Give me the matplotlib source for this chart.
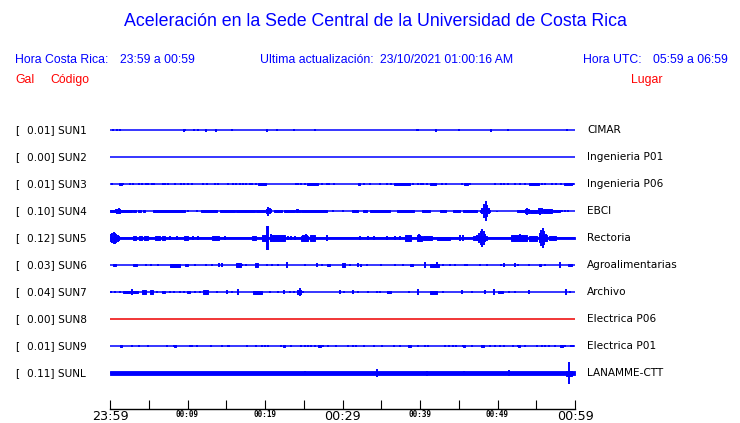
import matplotlib
matplotlib.use("Agg")
import matplotlib.pyplot as plt

# station info
codes = ["SUN1", "SUN2", "SUN3", "SUN4", "SUN5", "SUN6", "SUN7", "SUN8", "SUN9", "SUNL"]
peaks = [0.01, 0.00, 0.01, 0.10, 0.12, 0.03, 0.04, 0.00, 0.01, 0.11]
places = ["CIMAR", "Ingenieria P01", "Ingenieria P06", "EBCI", "Rectoria",
          "Agroalimentarias", "Archivo", "Electrica P06", "Electrica P01", "LANAMME-CTT"]
# background noise level per station (gal)
floors = [0, 0, 0, 0, 0.013, 0, 0, 0, 0, 0.017]

# time axis (minutes after 23:59)
tick_min = list(range(0, 61, 5))
big_labels = {0: "23:59", 30: "00:29", 60: "00:59"}
small_labels = {10: "00:09", 20: "00:19", 40: "00:39", 50: "00:49"}

# short bursts: (minute, amplitude in gal)
sun1_spikes = [(0.4, 0.006), (0.9, 0.01), (1.3, 0.01), (9.5, 0.015), (9.7, 0.01), (10.8, 0.01),
               (11.3, 0.007), (12.4, 0.015), (13.7, 0.015), (15.8, 0.007), (20.3, 0.015),
               (21.5, 0.012), (21.6, 0.012), (23.7, 0.01), (26.5, 0.007), (39.6, 0.012),
               (39.7, 0.012), (42.0, 0.015), (45.0, 0.012), (49.2, 0.015), (51.4, 0.01), (59.0, 0.01)]
sun2_spikes = []
sun3_spikes = [(t, 0.012) for t in [
    0.2, 1.7, 2.6, 3.0, 3.7, 4.1, 4.6, 4.9, 5.4, 5.7, 6.9, 7.1, 7.5, 8.4, 9.2, 9.5, 10.0,
    10.6, 12.0, 12.5, 13.5, 13.9, 15.2, 15.9, 16.3, 16.8, 17.1, 17.6, 18.0, 18.3, 18.8,
    24.0, 24.3, 24.6, 25.2, 27.3, 28.0, 28.3, 28.9, 32.8, 33.5, 34.8, 35.7, 36.3, 39.1,
    39.8, 40.1, 40.4, 40.9, 42.9, 43.3, 45.4, 46.5, 49.7, 50.5, 50.8, 51.4, 52.3, 52.9,
    53.5, 55.7, 56.1, 57.0, 57.6, 58.2, 59.8]]
sun4_spikes = [(0.73, 0.02), (0.95, 0.025), (1.16, 0.03), (1.33, 0.025), (1.5, 0.015),
               (10.1, 0.008), (11.2, 0.008), (20.2, 0.025), (20.4, 0.045), (20.6, 0.03),
               (20.8, 0.02), (24.1, 0.02), (24.3, 0.02), (24.5, 0.015), (28.8, 0.006),
               (30.1, 0.006), (47.83, 0.015), (48.05, 0.03), (48.26, 0.07), (48.48, 0.10),
               (48.65, 0.06), (48.86, 0.03), (49.08, 0.015), (49.9, 0.005), (53.7, 0.025),
               (53.85, 0.035), (54.0, 0.025), (55.3, 0.03), (55.5, 0.035), (55.7, 0.03),
               (58.3, 0.008), (58.7, 0.008), (59.1, 0.008)]
sun5_spikes = [(0.13, 0.04), (0.3, 0.05), (0.47, 0.06), (0.65, 0.055), (0.82, 0.045),
               (0.99, 0.035), (1.16, 0.025), (7.7, 0.017), (8.6, 0.017), (10.75, 0.017),
               (11.4, 0.017), (14.8, 0.017), (20.2, 0.12), (20.4, 0.12), (20.8, 0.04),
               (21.2, 0.035), (23.0, 0.02), (23.4, 0.02), (23.9, 0.02), (24.9, 0.03),
               (25.1, 0.035), (25.25, 0.04), (25.4, 0.035), (28.0, 0.027), (32.3, 0.017),
               (33.3, 0.017), (34.0, 0.017), (35.7, 0.017), (36.8, 0.017), (37.4, 0.017),
               (39.7, 0.03), (39.9, 0.04), (40.05, 0.035), (45.2, 0.027), (45.6, 0.027),
               (47.3, 0.03), (47.66, 0.05), (47.87, 0.07), (48.05, 0.09), (48.22, 0.07),
               (48.43, 0.04), (52.3, 0.035), (52.9, 0.04), (53.35, 0.035), (55.5, 0.05),
               (55.66, 0.08), (55.83, 0.10), (56.0, 0.07), (56.2, 0.04)]
sun6_spikes = [(4.7, 0.013), (5.25, 0.013), (6.15, 0.01), (11.0, 0.01), (12.4, 0.01),
               (13.2, 0.008), (14.0, 0.02), (14.4, 0.02), (16.6, 0.023), (17.0, 0.012),
               (17.6, 0.012), (20.2, 0.012), (20.9, 0.012), (21.7, 0.012), (22.8, 0.033),
               (25.1, 0.006), (26.75, 0.016), (27.3, 0.01), (31.0, 0.012), (32.0, 0.018),
               (32.4, 0.015), (33.1, 0.008), (35.0, 0.012), (36.8, 0.012), (37.85, 0.012),
               (40.7, 0.033), (42.15, 0.026), (43.0, 0.012), (43.9, 0.012), (44.5, 0.01),
               (45.8, 0.012), (46.1, 0.012), (47.7, 0.008), (48.6, 0.01), (50.5, 0.013),
               (50.8, 0.023), (52.2, 0.023), (52.7, 0.012), (54.0, 0.008), (56.1, 0.01),
               (58.1, 0.027)]
sun7_spikes = [(0.1, 0.008), (0.65, 0.006), (1.3, 0.006), (2.9, 0.03), (4.4, 0.02),
               (6.0, 0.01), (7.7, 0.01), (8.2, 0.01), (9.0, 0.008), (9.5, 0.01), (11.0, 0.008),
               (11.6, 0.008), (13.8, 0.013), (15.05, 0.017), (15.7, 0.01), (16.55, 0.027),
               (20.7, 0.008), (21.7, 0.008), (22.4, 0.02), (23.2, 0.01), (23.8, 0.01),
               (24.3, 0.025), (24.5, 0.04), (24.7, 0.025), (24.95, 0.01), (29.7, 0.023),
               (30.2, 0.01), (31.4, 0.017), (32.0, 0.01), (33.3, 0.008), (34.4, 0.008),
               (34.8, 0.006), (35.9, 0.015), (38.6, 0.013), (39.7, 0.027), (43.0, 0.01),
               (45.4, 0.02), (46.7, 0.006), (48.4, 0.02), (49.5, 0.03), (51.5, 0.008),
               (52.3, 0.006), (54.0, 0.02), (58.9, 0.027), (59.35, 0.01)]
sun8_spikes = []
sun9_spikes = [(t, 0.01) for t in [
    1.4, 2.9, 3.8, 4.9, 7.4, 8.3, 10.3, 10.6, 11.2, 13.0, 14.4, 15.2, 15.4, 17.7, 18.9,
    19.6, 20.0, 20.4, 22.0, 22.4, 23.4, 24.7, 25.1, 25.6, 25.9, 26.5, 27.0, 27.5, 28.1,
    29.2, 30.7, 31.3, 31.8, 32.8, 34.0, 35.1, 36.6, 37.4, 38.6, 39.7, 40.7, 41.0, 43.2,
    43.7, 44.3, 44.7, 45.6, 46.7, 48.0, 49.0, 49.7, 50.3, 50.8, 52.0, 52.7, 53.5, 55.1,
    55.7, 56.1, 56.6, 57.4, 58.2, 58.7, 59.5, 59.8]]
sunl_spikes = [(25.2, 0.02), (34.5, 0.037), (40.9, 0.025), (45.7, 0.02), (51.5, 0.03), (59.2, 0.11)]

# sustained shaking: (start minute, end minute, amplitude in gal)
sun1_bands = []
sun2_bands = []
sun3_bands = [(1.2, 1.5, 0.01), (19.1, 20.1, 0.01), (25.4, 26.9, 0.01), (32.0, 32.3, 0.01),
              (36.7, 38.7, 0.01), (41.3, 42.0, 0.01), (45.7, 46.2, 0.01), (54.1, 55.3, 0.01),
              (58.6, 59.6, 0.01)]
sun4_bands = [(0.0, 0.65, 0.013), (1.5, 2.8, 0.01), (3.0, 3.4, 0.008), (3.6, 4.0, 0.008),
              (4.2, 4.5, 0.008), (5.5, 9.7, 0.012), (11.8, 13.8, 0.01), (14.2, 16.1, 0.008),
              (16.3, 18.7, 0.008), (18.9, 20.0, 0.008), (21.1, 22.2, 0.01), (22.4, 23.9, 0.01),
              (24.7, 28.0, 0.012), (31.2, 32.0, 0.01), (32.7, 33.1, 0.008), (33.55, 36.1, 0.01),
              (37.0, 39.2, 0.01), (40.2, 41.3, 0.013), (42.6, 43.4, 0.01), (44.3, 45.2, 0.01),
              (45.6, 47.3, 0.01), (52.5, 53.6, 0.013), (54.2, 55.1, 0.015), (55.9, 57.0, 0.018),
              (57.2, 58.1, 0.01)]
sun5_bands = [(3.0, 3.4, 0.02), (3.7, 4.1, 0.017), (4.4, 4.9, 0.02), (5.8, 6.45, 0.017),
              (6.7, 7.1, 0.02), (9.5, 10.1, 0.023), (13.1, 14.0, 0.017), (18.3, 18.9, 0.017),
              (19.6, 20.2, 0.027), (20.6, 21.7, 0.033), (21.7, 22.6, 0.027), (24.7, 25.6, 0.025),
              (25.8, 26.45, 0.03), (38.1, 38.9, 0.027), (39.6, 40.2, 0.025), (40.4, 41.5, 0.02),
              (42.2, 43.9, 0.015), (46.9, 48.6, 0.02), (51.8, 53.8, 0.027), (54.0, 55.1, 0.025),
              (55.3, 56.4, 0.03), (56.6, 57.6, 0.02)]
sun6_bands = [(0.4, 0.8, 0.013), (3.0, 3.5, 0.013), (7.7, 9.0, 0.015), (9.7, 10.1, 0.013),
              (16.3, 16.9, 0.02), (18.7, 19.1, 0.018), (28.0, 28.4, 0.013), (29.9, 30.3, 0.018),
              (38.7, 39.1, 0.013), (41.3, 42.4, 0.015), (55.3, 55.6, 0.013), (59.1, 59.6, 0.013)]
sun7_bands = [(1.7, 2.6, 0.013), (3.0, 3.65, 0.013), (4.1, 4.7, 0.017), (5.2, 5.6, 0.017),
              (6.7, 7.1, 0.013), (9.9, 10.3, 0.013), (12.0, 12.7, 0.017), (18.5, 19.6, 0.015),
              (35.7, 36.3, 0.013), (41.3, 42.15, 0.015), (50.1, 50.75, 0.013)]
sun8_bands = []
sun9_bands = [(1.3, 1.6, 0.01), (8.2, 8.5, 0.01), (22.3, 22.6, 0.01), (26.9, 27.2, 0.01),
              (38.5, 38.8, 0.01), (45.5, 45.8, 0.01), (47.9, 48.2, 0.01), (52.6, 52.9, 0.01),
              (58.0, 58.4, 0.01)]
sunl_bands = [(58.9, 59.6, 0.025)]

spikes = [sun1_spikes, sun2_spikes, sun3_spikes, sun4_spikes, sun5_spikes,
          sun6_spikes, sun7_spikes, sun8_spikes, sun9_spikes, sunl_spikes]
bands = [sun1_bands, sun2_bands, sun3_bands, sun4_bands, sun5_bands,
         sun6_bands, sun7_bands, sun8_bands, sun9_bands, sunl_bands]

W, H = 740, 423
BLUE = "#0000ff"
RED = "#ff0000"
SANS = "Liberation Sans"

def fx(px):
    return px / W

def fy(py):
    return 1 - py / H

fig = plt.figure(figsize=(W / 100, H / 100), dpi=100)
fig.patch.set_facecolor("white")

# headers
fig.text(fx(375), fy(22), "Aceleración en la Sede Central de la Universidad de Costa Rica",
         ha="center", va="center", color=BLUE, fontsize=12.8, family=SANS)
hdr = dict(va="center", color=BLUE, fontsize=8.8, family=SANS)
fig.text(fx(15), fy(60), "Hora Costa Rica:", **hdr)
fig.text(fx(120), fy(60), "23:59 a 00:59", **hdr)
fig.text(fx(260), fy(60), "Ultima actualización:", **hdr)
fig.text(fx(380), fy(60), "23/10/2021 01:00:16 AM", **hdr)
fig.text(fx(583), fy(60), "Hora UTC:", **hdr)
fig.text(fx(653), fy(60), "05:59 a 06:59", **hdr)
red = dict(va="center", color=RED, fontsize=8.8, family=SANS)
fig.text(fx(15), fy(80), "Gal", **red)
fig.text(fx(50), fy(80), "Código", **red)
fig.text(fx(631), fy(80), "Lugar", **red)

# trace panel: y in gal, 100 px per gal, rows 27 px apart
x0, x1 = 110, 575
top, bot = 115, 395
ax = fig.add_axes([fx(x0), fy(bot), (x1 - x0) / W, (bot - top) / H])
ax.set_xlim(0, 60)
ax.set_ylim(-(bot - 130) / 100, -(top - 130) / 100)
ax.axis("off")

for i, code in enumerate(codes):
    base = -0.27 * i
    col = "#ee0000" if code == "SUN8" else BLUE
    ax.plot([0, 60], [base, base], color=col, lw=1.1, solid_capstyle="butt")
    if floors[i] > 0:
        ax.fill_between([0, 60], base - floors[i], base + floors[i],
                        facecolor=col, edgecolor=col, lw=0.6)
    for t0, t1, a in bands[i]:
        ax.fill_between([t0, t1], base - a, base + a, facecolor=col, edgecolor=col, lw=0.7)
    if spikes[i]:
        ts = [s[0] for s in spikes[i]]
        amps = [s[1] for s in spikes[i]]
        ax.vlines(ts, [base - a for a in amps], [base + a for a in amps], color=col, lw=1.4)

    py = 130 + 27 * i
    fig.text(fx(15), fy(py), "[", va="center", fontsize=7.6, family="DejaVu Sans")
    fig.text(fx(27), fy(py), f"{peaks[i]:.2f}] {code}", va="center", fontsize=7.6,
             family="DejaVu Sans")
    fig.text(fx(587), fy(py), places[i], va="center", fontsize=7.6, family="DejaVu Sans")

# time axis
tax = fig.add_axes([fx(x0), fy(409), (x1 - x0) / W, 0.001])
tax.set_xlim(0, 60)
tax.set_facecolor("none")
for s in ["top", "left", "right"]:
    tax.spines[s].set_visible(False)
tax.spines["bottom"].set_linewidth(1.0)
tax.set_yticks([])
tax.set_xticks(tick_min)
tax.set_xticklabels([big_labels.get(m, small_labels.get(m, "")) for m in tick_min])
tax.tick_params(axis="x", direction="in", length=6.5, width=0.8, pad=0.5)
for m, lab in zip(tick_min, tax.get_xticklabels()):
    if m in big_labels:
        lab.set_fontsize(9.2)
        lab.set_family("DejaVu Sans")
    else:
        lab.set_fontsize(5.5)
        lab.set_family("DejaVu Sans Mono")
        lab.set_fontweight("bold")

fig.savefig("out.png", dpi=100)
